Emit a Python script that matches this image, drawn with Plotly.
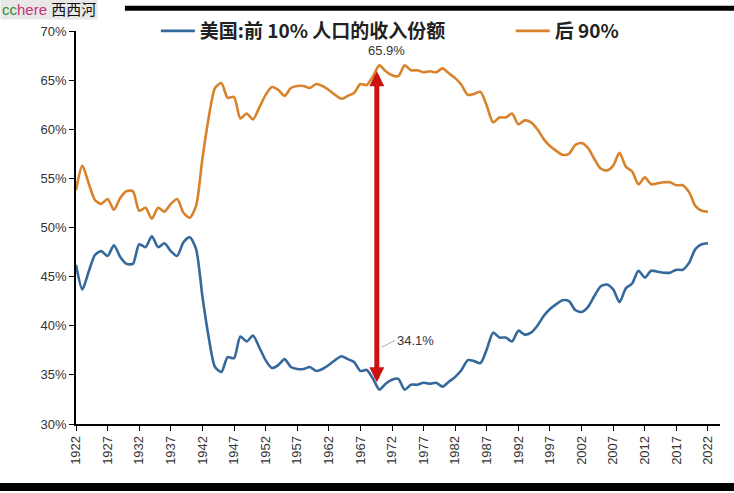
import plotly.graph_objects as go

years = list(range(1922, 2023))

top10_share = [
    46.2, 43.7, 45.5, 47.2, 47.6, 47.1, 48.2, 47.0, 46.3, 46.3,
    48.3, 48.0, 49.1, 48.0, 48.4, 47.6, 47.1, 48.5, 49.0, 47.8,
    43.0, 38.8, 35.8, 35.3, 36.8, 36.7, 38.9, 38.4, 39.0, 37.8,
    36.5, 35.7, 36.0, 36.6, 35.8, 35.6, 35.6, 35.8, 35.4, 35.6,
    36.0, 36.5, 36.9, 36.6, 36.3, 35.4, 35.5, 34.6, 33.5, 34.1,
    34.5, 34.6, 33.5, 34.0, 34.0, 34.2, 34.1, 34.2, 33.8, 34.3,
    34.8, 35.5, 36.5, 36.4, 36.2, 37.6, 39.3, 38.8, 38.8, 38.4,
    39.5, 39.1, 39.3, 40.0, 41.0, 41.7, 42.2, 42.6, 42.5, 41.6,
    41.4, 41.9, 43.0, 44.0, 44.2, 43.7, 42.4, 43.8, 44.3, 45.6,
    44.9, 45.6, 45.5, 45.4, 45.4, 45.7, 45.7, 46.4, 47.8, 48.3,
    48.4,
]

bottom90_share = [
    53.8, 56.3, 54.5, 52.8, 52.4, 52.9, 51.8, 53.0, 53.7, 53.7,
    51.7, 52.0, 50.9, 52.0, 51.6, 52.4, 52.9, 51.5, 51.0, 52.2,
    57.0, 61.2, 64.2, 64.7, 63.2, 63.3, 61.1, 61.6, 61.0, 62.2,
    63.5, 64.3, 64.0, 63.4, 64.2, 64.4, 64.4, 64.2, 64.6, 64.4,
    64.0, 63.5, 63.1, 63.4, 63.7, 64.6, 64.5, 65.4, 66.5, 65.9,
    65.5, 65.4, 66.5, 66.0, 66.0, 65.8, 65.9, 65.8, 66.2, 65.7,
    65.2, 64.5, 63.5, 63.6, 63.8, 62.4, 60.7, 61.2, 61.2, 61.6,
    60.5, 60.9, 60.7, 60.0, 59.0, 58.3, 57.8, 57.4, 57.5, 58.4,
    58.6, 58.1, 57.0, 56.0, 55.8, 56.3, 57.6, 56.2, 55.7, 54.4,
    55.1, 54.4, 54.5, 54.6, 54.6, 54.3, 54.3, 53.6, 52.2, 51.7,
    51.6,
]

tick_years = list(range(1922, 2023, 5))
tick_labels = [str(y) for y in tick_years]
y_ticks = [30, 35, 40, 45, 50, 55, 60, 65, 70]

# 1970 前后差距标注
gap_year = 1969.6
gap_low, gap_high = 34.1, 65.9

BLUE = '#35699B'
ORANGE = '#D8832C'
RED = '#CC1111'

fig = go.Figure()

fig.add_trace(go.Scatter(
    x=years, y=top10_share,
    name='美国:前 10% 人口的收入份额' + '&nbsp;' * 14,
    mode='lines',
    line=dict(color=BLUE, width=2.6, shape='spline', smoothing=0.7),
))
fig.add_trace(go.Scatter(
    x=years, y=bottom90_share,
    name='后 90%',
    mode='lines',
    line=dict(color=ORANGE, width=2.6, shape='spline', smoothing=0.7),
))

# 红色双向箭头
fig.add_annotation(
    x=gap_year, y=gap_high, ax=gap_year, ay=gap_low,
    xref='x', yref='y', axref='x', ayref='y',
    text='', showarrow=True,
    arrowhead=2, startarrowhead=2, arrowside='end+start',
    arrowsize=0.6, startarrowsize=0.6,
    arrowwidth=5, arrowcolor=RED,
)
fig.add_annotation(
    x=gap_year + 1.5, y=68.05,
    text=f'{gap_high}%', showarrow=False,
    font=dict(family='Liberation Sans, Arial', size=13, color='#333'),
)
fig.add_annotation(
    x=gap_year + 0.7, y=37.8,
    text=f'{gap_low}%', showarrow=True,
    arrowhead=0, arrowwidth=0.8, arrowcolor='#999',
    ax=14, ay=-7, xanchor='left',
    font=dict(family='Liberation Sans, Arial', size=13, color='#333'),
)

# 水印
fig.add_annotation(
    xref='paper', yref='paper', x=-0.118, y=1.055,
    xanchor='left', yanchor='middle', showarrow=False,
    text="<span style='color:#2f8f2f'>cc</span><span style='color:#c8307a'>here</span>"
         " <span style='color:#111'>西西河</span>",
    font=dict(family='Liberation Sans, Noto Sans CJK SC', size=15),
    bgcolor='#e8e8e8', borderpad=1,
)

# 上下黑色边线
fig.add_shape(type='line', xref='paper', yref='paper',
              x0=0.076, x1=1.03, y0=1.058, y1=1.058,
              line=dict(color='black', width=5))
fig.add_shape(type='line', xref='paper', yref='paper',
              x0=-0.13, x1=1.03, y0=-0.160, y1=-0.160,
              line=dict(color='black', width=8))

fig.update_layout(
    width=734, height=493,
    margin=dict(l=76, r=14, t=31, b=69),
    paper_bgcolor='white',
    plot_bgcolor='white',
    showlegend=True,
    legend=dict(
        orientation='h',
        x=0.124, y=1.0, xanchor='left', yanchor='middle',
        font=dict(family='Noto Sans CJK SC', size=19, color='#222', weight='bold'),
        bgcolor='rgba(0,0,0,0)',
        itemwidth=34,
    ),
    xaxis=dict(
        range=[1922, 2023.9],
        tickvals=tick_years, ticktext=tick_labels,
        tickangle=-90,
        ticks='outside', ticklen=5, tickcolor='black',
        showline=True, linecolor='black', linewidth=1.5,
        showgrid=False, zeroline=False,
        tickfont=dict(family='Liberation Sans, Arial', size=13, color='#333'),
    ),
    yaxis=dict(
        range=[30, 70],
        tickvals=y_ticks, ticktext=[f'{v}%' for v in y_ticks],
        ticks='outside', ticklen=5, tickcolor='black',
        showline=True, linecolor='black', linewidth=1.5,
        showgrid=False, zeroline=False,
        tickfont=dict(family='Liberation Sans, Arial', size=13, color='#333'),
    ),
)

# 去掉浏览器默认的 body 边距
fig.write_html('out.html', config={'displayModeBar': False},
               post_script="document.body.style.margin='0px';")
